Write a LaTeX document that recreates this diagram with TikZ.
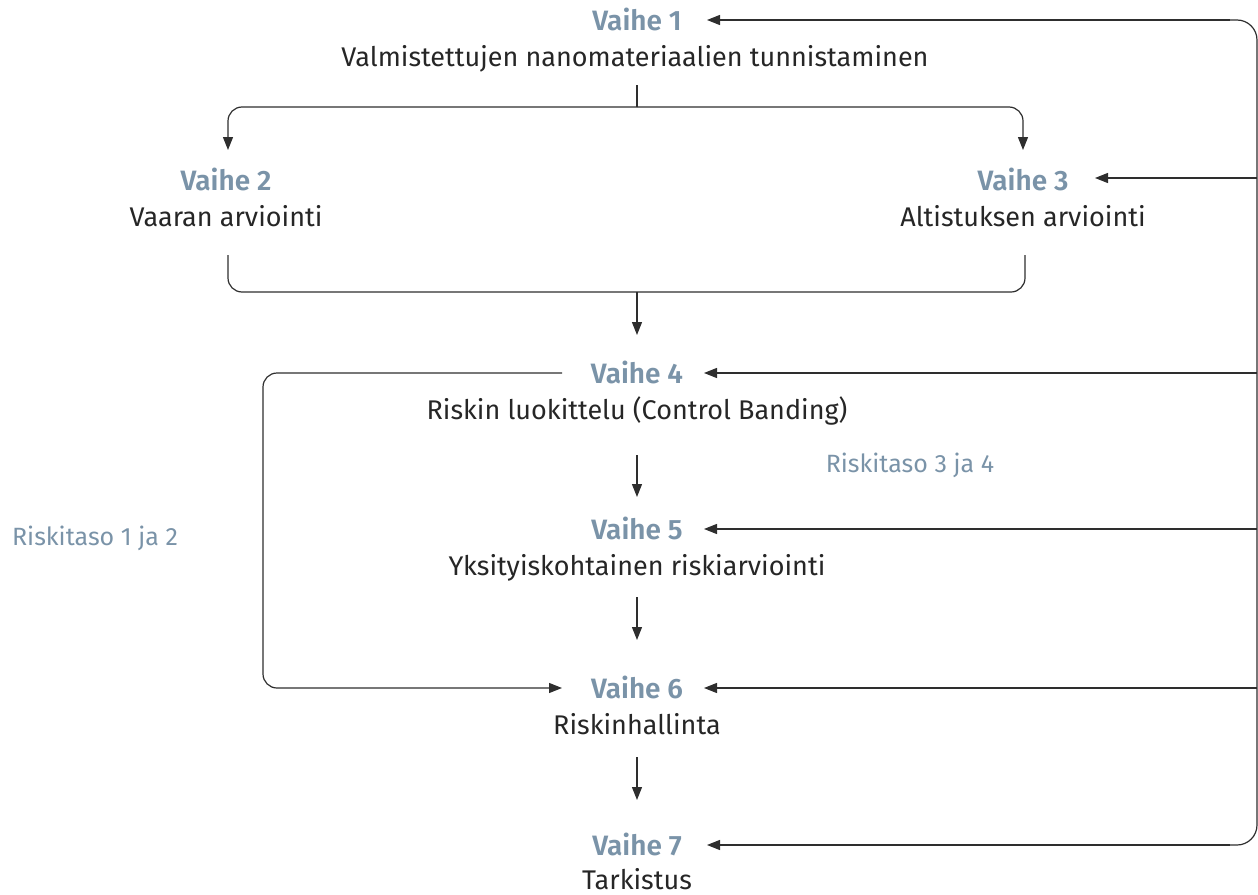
\documentclass[tikz,border=0pt]{standalone}
\usepackage{fontspec}
\setmainfont{Fira Sans}[BoldFont={Fira Sans SemiBold}]
\usetikzlibrary{arrows.meta}
\definecolor{stepblue}{HTML}{7A93A8}
\definecolor{linegray}{HTML}{2E2E2E}
\begin{document}
\begin{tikzpicture}[x=1pt,y=-1pt,
  stephead/.style={font=\fontsize{28}{32}\selectfont\bfseries, text=stepblue, inner sep=0pt, anchor=base},
  stepdesc/.style={font=\fontsize{27}{31}\selectfont, text=black!85, inner sep=0pt, anchor=base},
  risklabel/.style={font=\fontsize{25}{29}\selectfont, text=stepblue, inner sep=0pt, anchor=base},
  conn/.style={draw=linegray, line width=1.2pt, rounded corners=14pt},
  arr/.style={conn, -{Triangle[length=13pt,width=10pt]}}]
\useasboundingbox (0,0) rectangle (1258,894);
% stage nodes
\node[stephead] (h1) at (637,30) {Vaihe 1};
\node[stepdesc] (d1) at (635,66) {Valmistettujen nanomateriaalien tunnistaminen};
\node[stephead] (h2) at (226,190) {Vaihe 2};
\node[stepdesc] (d2) at (226,226) {Vaaran arviointi};
\node[stephead] (h3) at (1023,190) {Vaihe 3};
\node[stepdesc] (d3) at (1023,226) {Altistuksen arviointi};
\node[stephead] (h4) at (637,383) {Vaihe 4};
\node[stepdesc] (d4) at (637,419) {Riskin luokittelu (Control Banding)};
\node[stephead] (h5) at (637,539) {Vaihe 5};
\node[stepdesc] (d5) at (637,575) {Yksityiskohtainen riskiarviointi};
\node[stephead] (h6) at (637,698) {Vaihe 6};
\node[stepdesc] (d6) at (637,734) {Riskinhallinta};
\node[stephead] (h7) at (637,855) {Vaihe 7};
\node[stepdesc] (d7) at (637,889) {Tarkistus};
\node[risklabel] (r34) at (910,472) {Riskitaso 3 ja 4};
\node[risklabel] (r12) at (95,545) {Riskitaso 1 ja 2};
% coordinates
\coordinate (s1) at (637,85);
\coordinate (t2) at (228,150);
\coordinate (t3) at (1023,150);
\coordinate (b2) at (228,255);
\coordinate (b3) at (1025,255);
\coordinate (bm) at (637,292);
\coordinate (t4) at (637,335);
\coordinate (s4) at (637,455);
\coordinate (t5) at (637,497);
\coordinate (s5) at (637,597);
\coordinate (t6) at (637,640);
\coordinate (s6) at (637,757);
\coordinate (t7) at (637,800);
\coordinate (L4) at (562,373);
\coordinate (L6) at (562,688);
% split from stage 1
\draw[conn] (s1) -- (637,107);
\draw[arr] (637,107) -| (t2);
\draw[arr] (637,107) -| (t3);
% merge 2,3
\draw[conn] (b2) |- (bm) -| (b3);
\draw[arr] (bm) -- (t4);
% vertical chain
\draw[arr] (s4) -- (t5);
\draw[arr] (s5) -- (t6);
\draw[arr] (s6) -- (t7);
% left loop
\draw[arr] (L4) -- (263,373) -- (263,688) -- (L6);
% right feedback line
\draw[conn, rounded corners=20pt] (1200,20) -- (1257,20) -- (1257,845) -- (1200,845);
\draw[arr] (1230,20) -- (707,20);
\draw[arr] (1257,178) -- (1095,178);
\draw[arr] (1257,373) -- (704,373);
\draw[arr] (1257,529) -- (704,529);
\draw[arr] (1257,688) -- (704,688);
\draw[arr] (1230,845) -- (707,845);
\end{tikzpicture}
\end{document}
